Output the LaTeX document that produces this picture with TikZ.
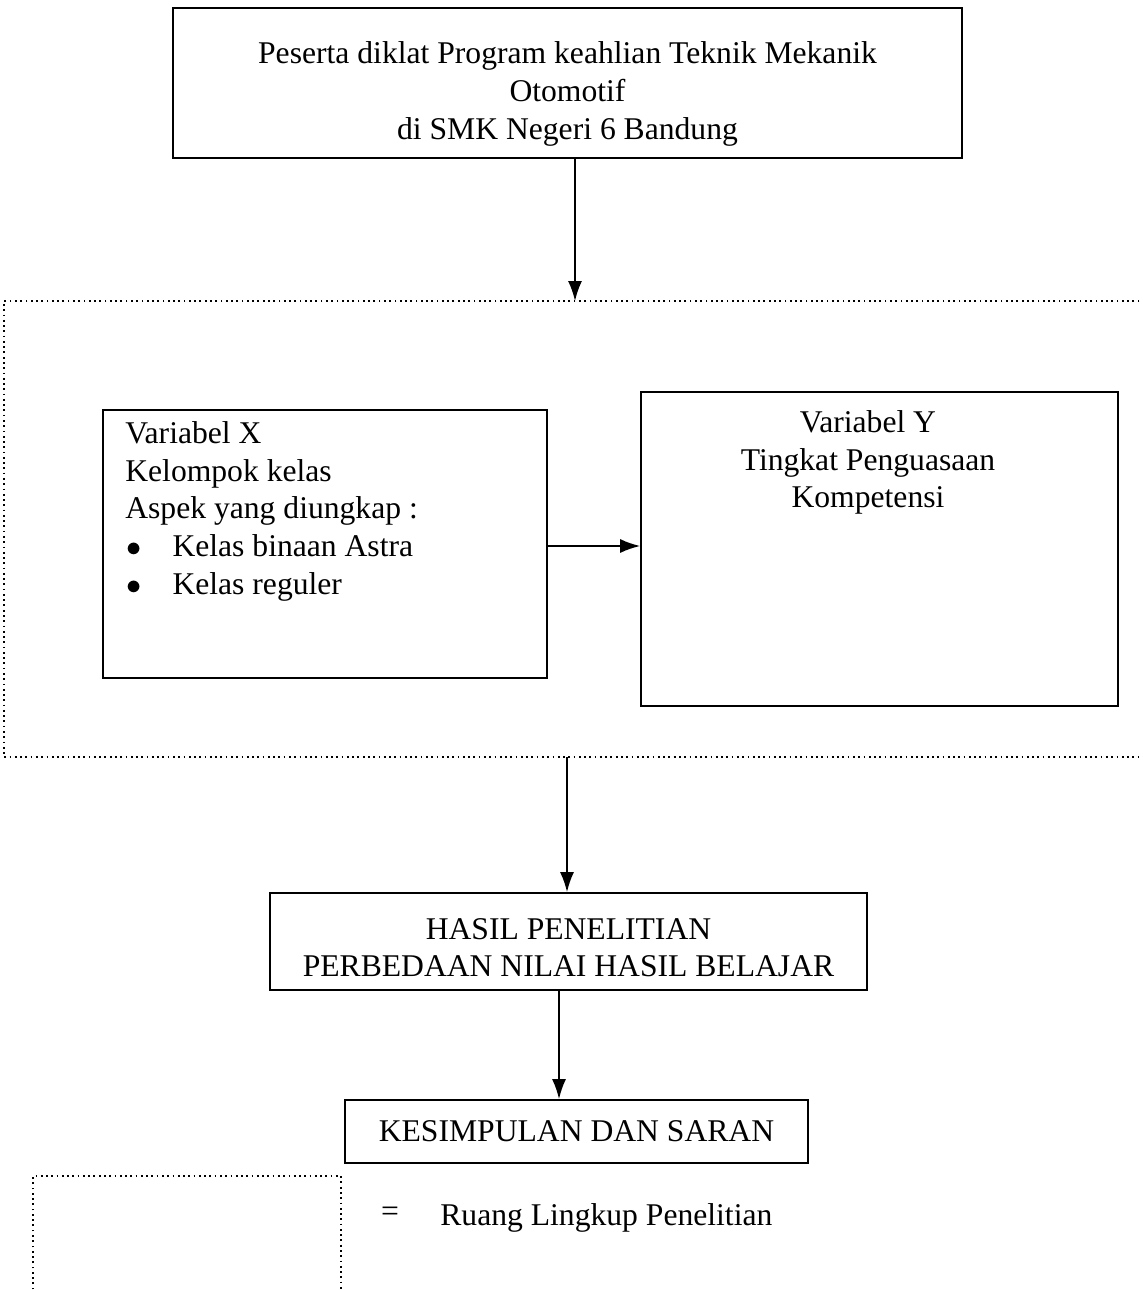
\documentclass[tikz,border=0pt]{standalone}
\usepackage{fontspec}
\setmainfont{Liberation Serif}
\usetikzlibrary{arrows.meta}

\begin{document}
\begin{tikzpicture}
[x=0.02cm,y=-0.02cm,%
  box/.style={draw,line width=1pt,inner sep=0pt},%
  txt/.style={inner sep=0pt,align=center},%
  scope/.style={line width=1pt,dotted},%
  arr/.style={line width=1pt,-{Latex[length=0.4cm,width=0.28cm]}}]
\fontsize{18}{21.5}\selectfont
\useasboundingbox (0,0) rectangle (1142,1290);
% boxes
\node[box,minimum width=15.78cm,minimum height=3cm,txt] (peserta) at (567.5,83)
  {\rule{0pt}{25pt}Peserta diklat Program keahlian Teknik Mekanik\\Otomotif\\di SMK Negeri 6 Bandung};
\node[box,minimum width=8.88cm,minimum height=5.36cm] (varx) at (325,544) {};
\node[box,minimum width=9.54cm,minimum height=6.28cm] (vary) at (879.5,549) {};
\node[box,minimum width=11.94cm,minimum height=1.94cm,txt] (hasil) at (568.5,941.5)
  {\rule{0pt}{19pt}HASIL PENELITIAN\\PERBEDAAN NILAI HASIL BELAJAR};
\node[box,minimum width=9.26cm,minimum height=1.26cm,txt] (kesimpulan) at (576.5,1131.5)
  {KESIMPULAN DAN SARAN};
% box texts
\node[inner sep=0pt,anchor=north west,align=left] (xtext) at (125,421)
  {Variabel X\\Kelompok kelas\\Aspek yang diungkap :\\
   \hspace*{0.02cm}$\bullet$\hspace{0.62cm}Kelas binaan Astra\\
   \hspace*{0.02cm}$\bullet$\hspace{0.62cm}Kelas reguler};
\node[txt,anchor=north] (ytext) at (868,410)
  {Variabel Y\\Tingkat Penguasaan\\Kompetensi};
% ruang lingkup
\coordinate (rtop) at (1150,301);
\coordinate (rbot) at (1150,757);
\draw[scope] (rtop) -- (4,301) -- (4,757) -- (rbot);
\coordinate (ltop) at (33,1176);
\draw[scope] (33,1300) -- (ltop) -- (341,1176) -- (341,1300);
\node[inner sep=0pt] (eq) at (390,1214) {=};
\node[inner sep=0pt,anchor=west] (legend) at (440,1218) {Ruang Lingkup Penelitian};
% arrows
\coordinate (s1) at (575,301);
\coordinate (s2) at (567,757);
\draw[arr] (peserta.south -| s1) -- (s1);
\draw[arr] (varx.east |- 0,546) -- (vary.west |- 0,546);
\draw[arr] (s2) -- (hasil.north -| s2);
\draw[arr] (hasil.south -| 559,0) -- (kesimpulan.north -| 559,0);
\end{tikzpicture}
\end{document}
